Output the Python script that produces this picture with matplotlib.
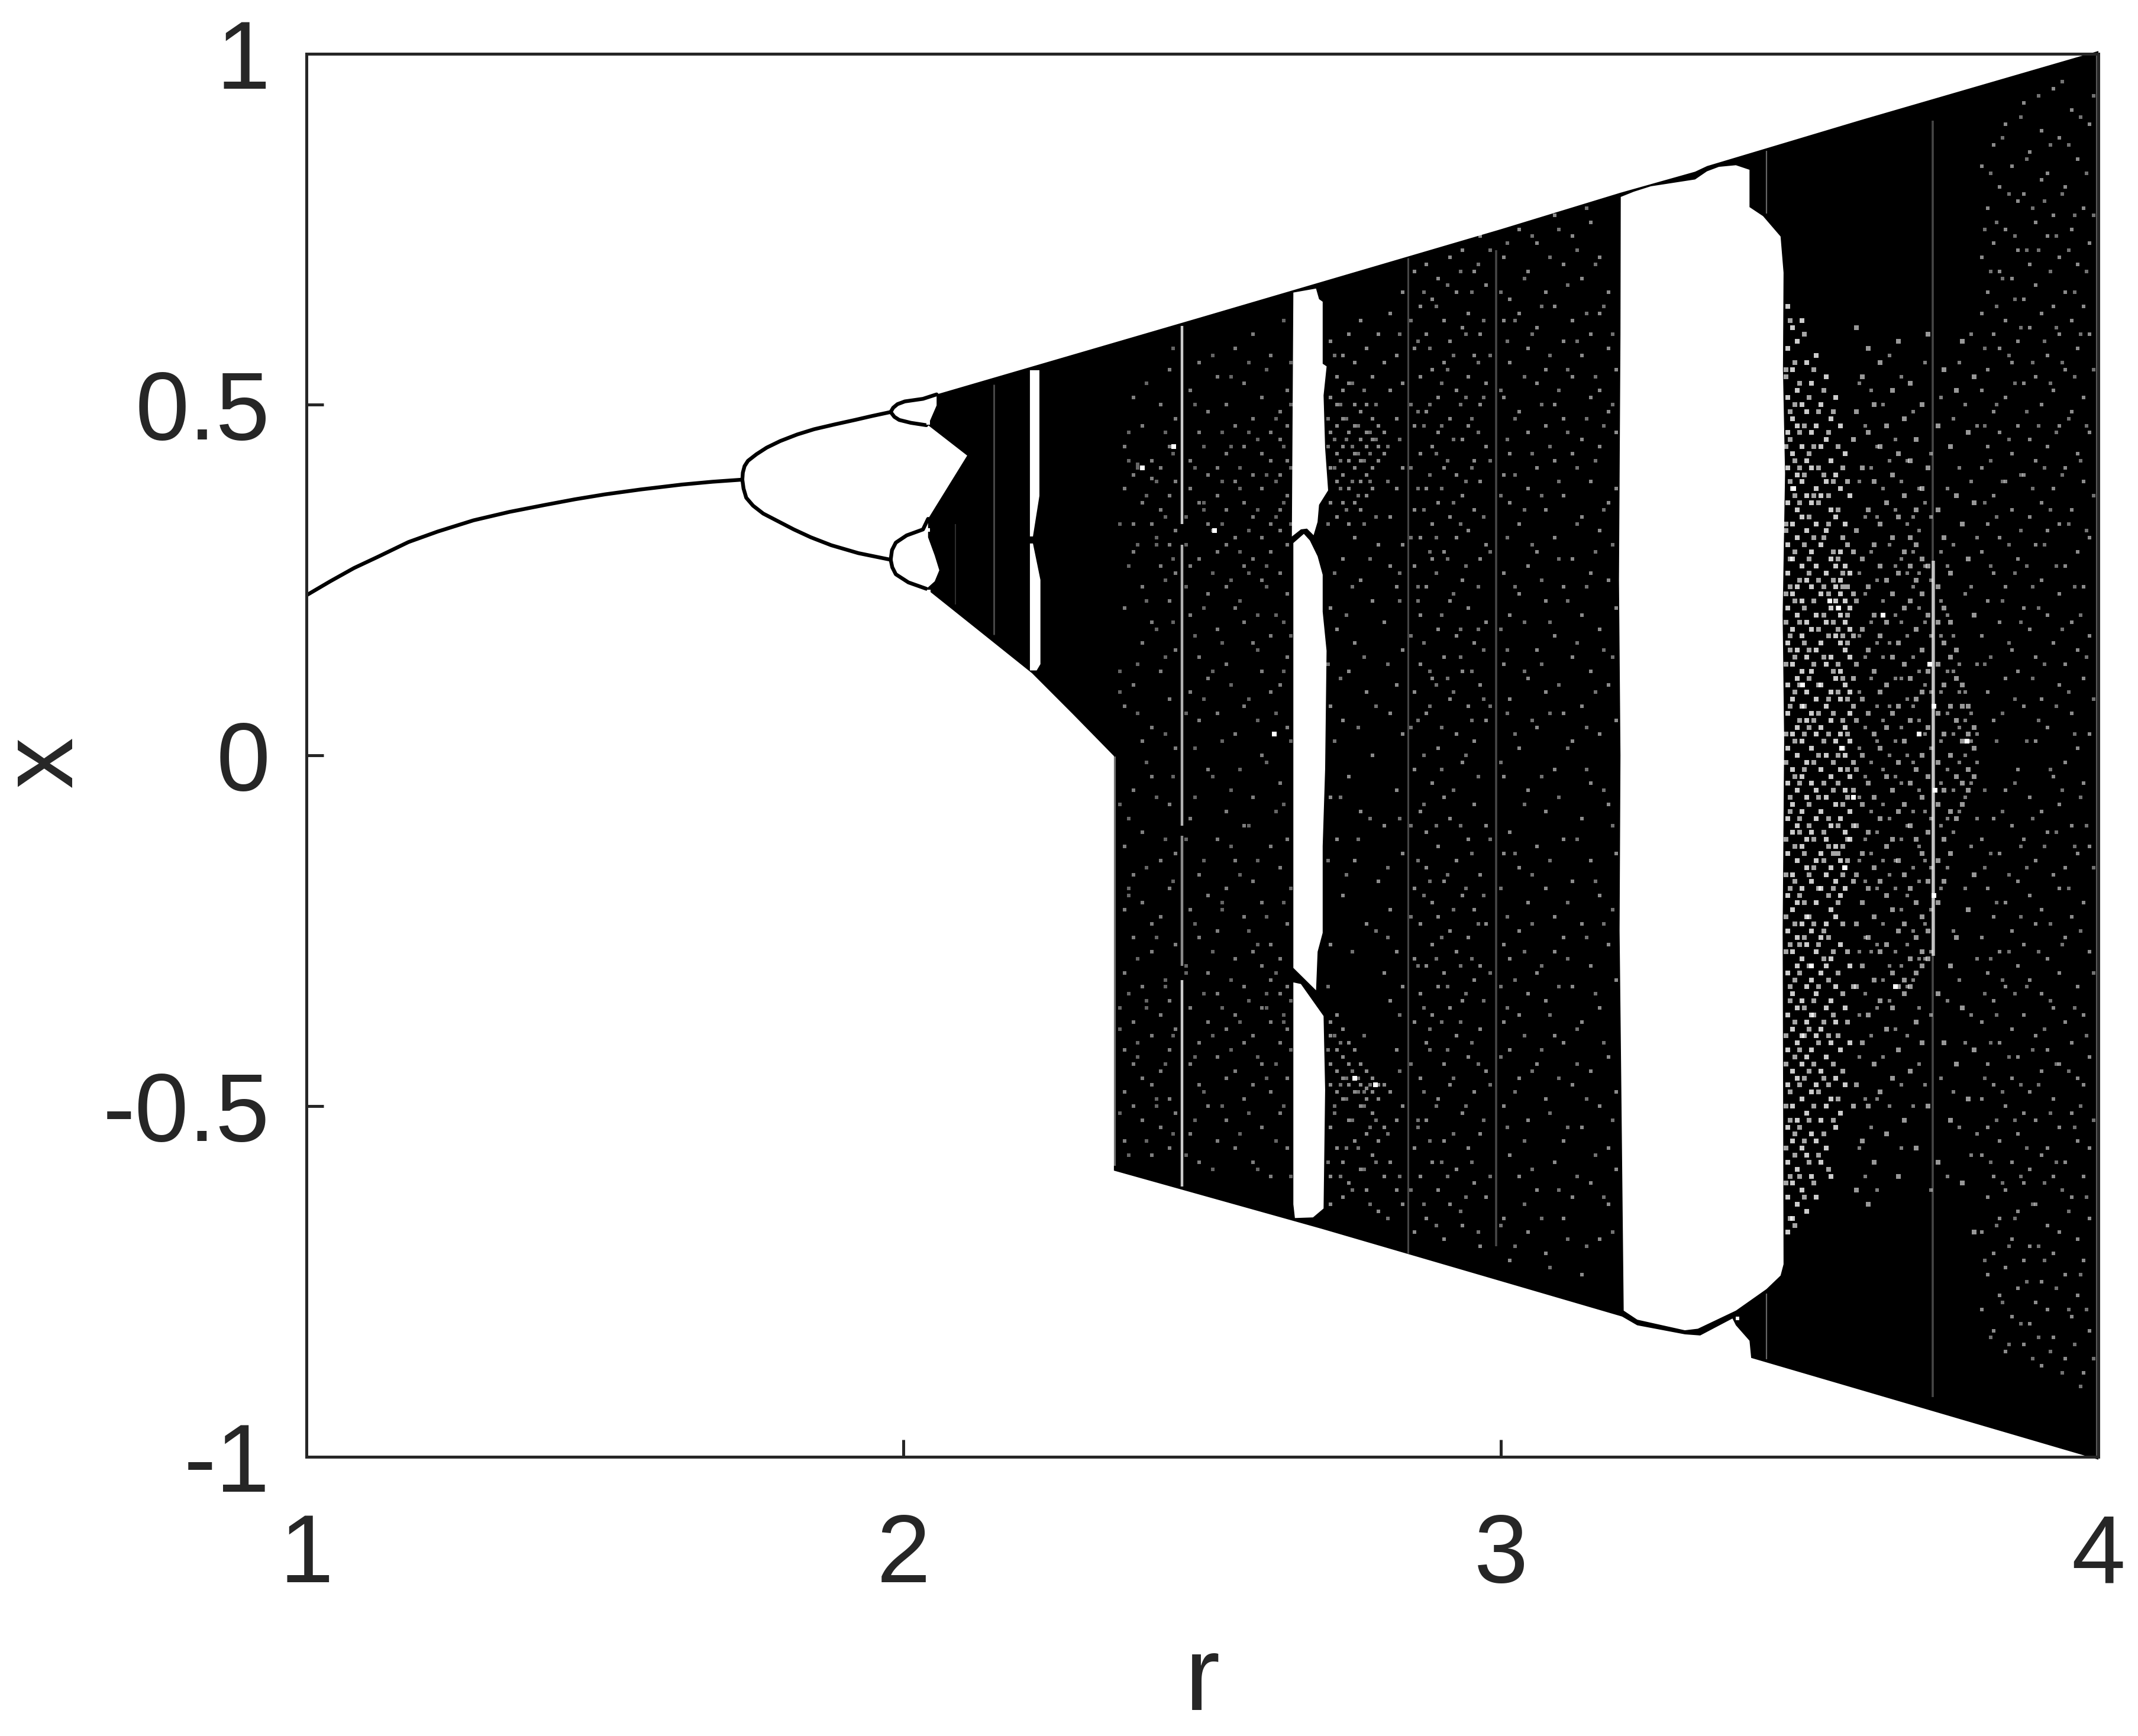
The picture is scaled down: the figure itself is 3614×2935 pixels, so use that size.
import matplotlib
matplotlib.use("Agg")
import matplotlib.pyplot as plt

plt.rcParams["font.family"] = ["Liberation Sans", "DejaVu Sans"]

INK = "#262626"

# single branch and the period doubling branches before the black band
stem_r = [1.0, 1.04, 1.08, 1.12, 1.171, 1.22, 1.28, 1.34, 1.4, 1.45, 1.5, 1.56, 1.629, 1.68, 1.73]
stem_x = [0.228, 0.248, 0.267, 0.283, 0.304, 0.319, 0.335, 0.347, 0.357, 0.365, 0.372, 0.379, 0.386, 0.39, 0.393]
upper_r = [1.73, 1.7308, 1.7337, 1.7394, 1.7536, 1.7707, 1.7934, 1.8219, 1.8503, 1.8845, 1.9186, 1.9471, 1.9783]
upper_x = [0.393, 0.4029, 0.4123, 0.4198, 0.4292, 0.4386, 0.448, 0.4574, 0.4649, 0.4717, 0.4781, 0.4837, 0.4894]
lower_r = [1.73, 1.732, 1.7365, 1.7479, 1.765, 1.7906, 1.8162, 1.8446, 1.8788, 1.9243, 1.9783]
lower_x = [0.393, 0.3803, 0.3672, 0.3559, 0.3446, 0.3333, 0.322, 0.3108, 0.2995, 0.2882, 0.2788]
twig_a_r = [1.9783, 1.9825, 1.9897, 2.002, 2.0324, 2.0552]
twig_a_x = [0.4894, 0.4955, 0.5006, 0.5045, 0.5082, 0.5145]
twig_b_r = [1.9783, 1.9845, 1.9926, 2.012, 2.0381]
twig_b_x = [0.4894, 0.4825, 0.4781, 0.474, 0.4706]
twig_c_r = [1.9783, 1.9805, 1.9869, 2.005, 2.0324, 2.0409]
twig_c_x = [0.2788, 0.2925, 0.3032, 0.3135, 0.322, 0.3371]
twig_d_r = [1.9783, 1.981, 1.9869, 2.008, 2.0381]
twig_d_x = [0.2788, 0.268, 0.2581, 0.2465, 0.2374]

# outline of the black band, top edge then bottom edge then the left notch
band_r = [2.0552, 2.5, 3.0, 3.2, 3.325, 3.345, 3.6, 4.0, 4.0, 3.968, 3.4188, 3.416, 3.3932, 3.3875,
          3.3335, 3.308, 3.228, 3.2026, 2.7, 2.352, 2.352, 2.283, 2.215, 2.124, 2.0381,
          2.052, 2.0597, 2.052, 2.0409, 2.0409, 2.1064, 2.0409, 2.0552]
band_x = [0.5145, 0.625, 0.75, 0.802, 0.832, 0.84, 0.905, 1.004, -1.004, -0.996, -0.859, -0.8345, -0.8125, -0.8028,
          -0.827, -0.8254, -0.8125, -0.80, -0.675, -0.592, -0.001, 0.059, 0.117, 0.179, 0.2374,
          0.2480, 0.2638, 0.2850, 0.3108, 0.3371, 0.4273, 0.4706, 0.4988]

# white periodic windows
win_a_r = [2.2114, 2.2273, 2.2273, 2.2165, 2.2114]
win_a_x = [0.549, 0.549, 0.37, 0.312, 0.312]
win_b_r = [2.2114, 2.2165, 2.229, 2.229, 2.2227, 2.2114]
win_b_x = [0.302, 0.302, 0.25, 0.13, 0.121, 0.121]
win_c_r = [2.6524, 2.6904, 2.6954, 2.7015, 2.7015, 2.7081, 2.703, 2.7056, 2.7106, 2.6954, 2.6929, 2.6863,
           2.6752, 2.6651, 2.6499]
win_c_x = [0.6597, 0.6654, 0.6503, 0.6466, 0.5582, 0.5545, 0.5131, 0.4379, 0.3777, 0.3571, 0.3326, 0.3138,
           0.3232, 0.3221, 0.3119]
win_d_r = [2.6524, 2.67, 2.68, 2.693, 2.7015, 2.7015, 2.708, 2.7056, 2.7015, 2.7015, 2.693, 2.6904, 2.6524]
win_d_x = [0.3026, 0.3157, 0.3063, 0.2837, 0.2574, 0.2048, 0.149, -0.0198, -0.1295, -0.253, -0.28, -0.335, -0.303]
win_e_r = [2.6524, 2.665, 2.703, 2.7056, 2.703, 2.6853, 2.655, 2.6524]
win_e_x = [-0.3237, -0.326, -0.3717, -0.4768, -0.646, -0.6587, -0.6596, -0.64]
win_f_r = [3.2005, 3.2225, 3.251, 3.3249, 3.3448, 3.3648, 3.3932, 3.416, 3.416, 3.4387, 3.468, 3.473, 3.472,
           3.4755, 3.4715, 3.474, 3.4715, 3.473, 3.468, 3.4444, 3.3932, 3.3295, 3.3078, 3.2282, 3.2054, 3.2005,
           3.1985, 3.2, 3.1975, 3.2]
win_f_x = [0.796, 0.8035, 0.8112, 0.8209, 0.8325, 0.8389, 0.8412, 0.8347, 0.7815, 0.7686, 0.7396, 0.688, 0.55,
           0.4016, 0.2, 0.02, -0.25, -0.7255, -0.7416, -0.7609, -0.7916, -0.8174, -0.8196, -0.8045, -0.7916, -0.4,
           -0.25, 0.0, 0.25, 0.6]

# small white holes next to the twigs
hole_r = [2.0415, 2.0415, 2.0425, 3.396]
hole_x = [0.4735, 0.3215, 0.2335, -0.803]

# faint vertical streaks: position, bottom, top, opacity, width
streak_r = [2.151, 2.087, 2.466, 2.466, 2.466, 2.466, 2.8447, 2.9914, 3.4444, 3.4444, 3.7232, 3.7236, 2.3535, 3.9985]
streak_lo = [0.172, 0.215, 0.33, -0.10, -0.30, -0.615, -0.71, -0.70, 0.772, -0.861, -0.915, -0.286, -0.585, -1.0]
streak_hi = [0.529, 0.33, 0.612, 0.30, -0.115, -0.32, 0.709, 0.72, 0.862, -0.767, 0.905, 0.2777, -0.002, 1.0]
streak_a = [0.3, 0.18, 0.8, 0.7, 0.55, 0.8, 0.28, 0.28, 0.4, 0.4, 0.28, 0.7, 0.45, 0.35]
streak_w = [2.0, 1.5, 3.2, 3.2, 3.2, 3.2, 2.2, 2.6, 1.6, 1.6, 2.6, 4.0, 3.0, 3.0]

# speckle columns, x values at each r
sparse_r = [2.37, 2.385, 2.40, 2.415, 2.43, 2.445, 2.455, 2.48, 2.495, 2.51, 2.525, 2.54, 2.555, 2.57, 2.585, 2.60,
            2.615, 2.63, 2.642]
sparse_x = [
    [0.44, 0.38, 0.21, 0.07, -0.13, -0.22, -0.31, -0.42, -0.48, -0.55],
    [0.51, 0.40, 0.33, 0.29, 0.10, -0.05, -0.17, -0.26, -0.38, -0.44, -0.50],
    [0.47, 0.36, 0.24, 0.16, 0.02, -0.11, -0.21, -0.33, -0.46, -0.52],
    [0.42, 0.395, 0.33, 0.19, 0.04, -0.03, -0.24, -0.28, -0.40, -0.47, -0.57],
    [0.50, 0.41, 0.35, 0.27, 0.12, -0.15, -0.23, -0.37, -0.45, -0.53],
    [0.55, 0.44, 0.37, 0.30, 0.22, 0.08, -0.07, -0.19, -0.35, -0.42, -0.49, -0.56],
    [0.48, 0.39, 0.32, 0.26, 0.15, 0.01, -0.14, -0.27, -0.39, -0.51],
    [0.52, 0.42, 0.38, 0.27, 0.20, 0.09, -0.09, -0.22, -0.36, -0.44, -0.54],
    [0.56, 0.46, 0.36, 0.28, 0.14, 0.05, -0.17, -0.26, -0.41, -0.47, -0.58],
    [0.49, 0.40, 0.33, 0.23, 0.11, -0.02, -0.20, -0.31, -0.38, -0.50],
    [0.54, 0.41, 0.37, 0.29, 0.18, 0.06, -0.12, -0.25, -0.34, -0.43, -0.55],
    [0.50, 0.43, 0.35, 0.30, 0.24, 0.13, -0.08, -0.19, -0.39, -0.46, -0.52],
    [0.58, 0.47, 0.39, 0.31, 0.21, 0.03, -0.15, -0.29, -0.37, -0.45, -0.56],
    [0.53, 0.44, 0.36, 0.27, 0.19, 0.07, -0.10, -0.23, -0.33, -0.41, -0.49],
    [0.60, 0.48, 0.40, 0.34, 0.28, 0.16, -0.06, -0.18, -0.28, -0.40, -0.47, -0.58],
    [0.51, 0.43, 0.38, 0.31, 0.25, 0.12, 0.0, -0.21, -0.30, -0.36, -0.44, -0.53],
    [0.57, 0.46, 0.42, 0.33, 0.29, 0.17, 0.09, -0.13, -0.27, -0.32, -0.38, -0.48, -0.60],
    [0.49, 0.45, 0.40, 0.35, 0.32, 0.26, 0.10, -0.04, -0.16, -0.29, -0.34, -0.41, -0.51],
    [0.52, 0.47, 0.42, 0.37, 0.30, 0.23, 0.14, 0.04, -0.12, -0.24, -0.33, -0.39, -0.46, -0.56],
]
sparse2_r = [2.362, 2.377, 2.392, 2.407, 2.423, 2.438, 2.451, 2.473, 2.488, 2.503, 2.517, 2.533, 2.548, 2.563, 2.578,
             2.593, 2.608, 2.623, 2.636, 2.648]
sparse2_x = [
    [0.33, 0.12, 0.09, -0.07, -0.36, -0.39, -0.51],
    [0.46, 0.42, 0.27, -0.09, -0.19, -0.20, -0.34, -0.57],
    [0.41, 0.415, 0.30, 0.13, 0.06, -0.29, -0.41, -0.43],
    [0.53, 0.37, 0.22, -0.01, -0.16, -0.35, -0.36, -0.55],
    [0.39, 0.31, 0.30, 0.18, -0.06, -0.26, -0.49, -0.50],
    [0.46, 0.34, 0.25, 0.14, 0.03, -0.12, -0.32, -0.33, -0.44],
    [0.58, 0.43, 0.28, 0.19, -0.03, -0.18, -0.40, -0.54],
    [0.34, 0.30, 0.24, 0.06, -0.12, -0.30, -0.31, -0.57],
    [0.50, 0.41, 0.17, 0.01, -0.06, -0.24, -0.43, -0.52],
    [0.44, 0.36, 0.35, 0.21, 0.08, -0.15, -0.34, -0.48],
    [0.57, 0.32, 0.26, 0.12, -0.03, -0.28, -0.40, -0.59],
    [0.46, 0.39, 0.33, 0.16, 0.02, -0.21, -0.22, -0.36, -0.50],
    [0.54, 0.44, 0.25, 0.10, -0.05, -0.13, -0.32, -0.42],
    [0.41, 0.38, 0.29, 0.22, -0.02, -0.17, -0.38, -0.54],
    [0.56, 0.46, 0.32, 0.26, 0.08, -0.10, -0.25, -0.35, -0.51],
    [0.45, 0.35, 0.20, 0.15, 0.05, -0.15, -0.27, -0.43, -0.59],
    [0.55, 0.40, 0.27, 0.24, -0.01, -0.23, -0.34, -0.36, -0.46],
    [0.48, 0.39, 0.34, 0.20, 0.06, -0.08, -0.31, -0.44, -0.55],
    [0.62, 0.44, 0.36, 0.19, 0.12, -0.07, -0.21, -0.37, -0.38, -0.50],
    [0.56, 0.50, 0.41, 0.33, 0.17, 0.02, -0.19, -0.35, -0.42, -0.60],
]
mid_r = [2.715, 2.725, 2.735, 2.745, 2.755, 2.765, 2.775, 2.785, 2.795, 2.805, 2.815, 2.825, 2.835, 2.855, 2.865,
         2.875, 2.885, 2.895, 2.905, 2.915, 2.925, 2.935, 2.945, 2.955, 2.965, 2.975, 3.005, 3.015, 3.03, 3.045,
         3.06, 3.075, 3.09, 3.105, 3.12, 3.135, 3.15, 3.165, 3.18, 3.193]
mid_x = [
    [0.59, 0.51, 0.46, 0.41, 0.36, 0.21, 0.07, -0.06, -0.27, -0.38, -0.40, -0.44, -0.47, -0.53, -0.60, -0.64],
    [0.54, 0.50, 0.47, 0.43, 0.39, 0.34, 0.18, -0.12, -0.37, -0.42, -0.45, -0.48, -0.56],
    [0.57, 0.52, 0.48, 0.44, 0.40, 0.36, 0.28, 0.05, -0.20, -0.39, -0.43, -0.46, -0.49, -0.58, -0.63],
    [0.60, 0.53, 0.46, 0.42, 0.38, 0.33, 0.12, -0.03, -0.41, -0.44, -0.47, -0.52, -0.61],
    [0.56, 0.50, 0.47, 0.43, 0.41, 0.36, 0.31, 0.16, -0.15, -0.42, -0.46, -0.48, -0.55],
    [0.62, 0.49, 0.45, 0.42, 0.39, 0.35, 0.25, -0.08, -0.44, -0.47, -0.50, -0.59],
    [0.58, 0.50, 0.46, 0.44, 0.40, 0.37, 0.09, -0.24, -0.45, -0.475, -0.49, -0.54, -0.62],
    [0.54, 0.48, 0.45, 0.41, 0.38, 0.22, 0.0, -0.46, -0.48, -0.51, -0.57],
    [0.60, 0.47, 0.44, 0.42, 0.30, -0.18, -0.47, -0.49, -0.55, -0.65],
    [0.56, 0.46, 0.43, 0.19, -0.10, -0.31, -0.47, -0.53, -0.60],
    [0.63, 0.52, 0.34, 0.27, 0.06, -0.22, -0.35, -0.48, -0.58],
    [0.57, 0.48, 0.38, 0.24, 0.10, -0.05, -0.28, -0.42, -0.52, -0.62],
    [0.66, 0.53, 0.41, 0.30, 0.15, 0.03, -0.14, -0.33, -0.50, -0.64],
    [0.69, 0.58, 0.47, 0.35, 0.27, 0.09, -0.02, -0.19, -0.29, -0.38, -0.56, -0.68],
    [0.64, 0.54, 0.43, 0.31, 0.20, 0.13, -0.08, -0.24, -0.34, -0.46, -0.60],
    [0.70, 0.60, 0.49, 0.38, 0.24, 0.06, -0.11, -0.16, -0.30, -0.41, -0.52, -0.66],
    [0.65, 0.55, 0.44, 0.33, 0.28, 0.11, -0.04, -0.21, -0.27, -0.37, -0.58],
    [0.68, 0.51, 0.46, 0.36, 0.18, 0.01, -0.13, -0.23, -0.33, -0.49, -0.62],
    [0.62, 0.56, 0.41, 0.29, 0.14, -0.06, -0.18, -0.31, -0.44, -0.55, -0.69],
    [0.71, 0.59, 0.48, 0.34, 0.22, 0.08, -0.09, -0.25, -0.36, -0.47, -0.64],
    [0.66, 0.52, 0.40, 0.31, 0.17, 0.03, -0.15, -0.28, -0.40, -0.59],
    [0.72, 0.61, 0.45, 0.37, 0.25, 0.12, -0.01, -0.20, -0.35, -0.51, -0.67],
    [0.63, 0.54, 0.47, 0.32, 0.21, 0.07, -0.12, -0.26, -0.43, -0.56],
    [0.69, 0.57, 0.42, 0.35, 0.16, 0.02, -0.07, -0.22, -0.32, -0.48, -0.61],
    [0.74, 0.60, 0.50, 0.39, 0.28, 0.10, -0.17, -0.30, -0.39, -0.54, -0.70],
    [0.67, 0.53, 0.44, 0.30, 0.19, 0.05, -0.10, -0.24, -0.45, -0.63],
    [0.71, 0.62, 0.51, 0.40, 0.26, 0.13, -0.03, -0.14, -0.27, -0.38, -0.50, -0.66],
    [0.65, 0.56, 0.43, 0.36, 0.20, 0.08, -0.11, -0.29, -0.42, -0.57, -0.72],
    [0.75, 0.63, 0.49, 0.33, 0.23, 0.01, -0.16, -0.25, -0.37, -0.46, -0.60],
    [0.69, 0.58, 0.46, 0.38, 0.27, 0.11, -0.05, -0.21, -0.34, -0.52, -0.68],
    [0.73, 0.61, 0.53, 0.41, 0.29, 0.15, 0.04, -0.13, -0.31, -0.44, -0.62],
    [0.66, 0.55, 0.47, 0.35, 0.22, 0.09, -0.08, -0.19, -0.35, -0.49, -0.71],
    [0.77, 0.64, 0.50, 0.42, 0.31, 0.17, -0.02, -0.23, -0.28, -0.40, -0.58],
    [0.70, 0.59, 0.48, 0.37, 0.24, 0.06, -0.12, -0.26, -0.41, -0.55, -0.66],
    [0.74, 0.62, 0.54, 0.43, 0.28, 0.14, 0.02, -0.18, -0.33, -0.47, -0.63],
    [0.68, 0.57, 0.45, 0.34, 0.20, 0.07, -0.09, -0.24, -0.38, -0.53, -0.74],
    [0.76, 0.60, 0.51, 0.39, 0.26, 0.12, -0.04, -0.15, -0.30, -0.45, -0.61],
    [0.71, 0.63, 0.52, 0.44, 0.32, 0.18, 0.03, -0.20, -0.36, -0.50, -0.69],
    [0.66, 0.58, 0.49, 0.36, 0.25, 0.10, -0.07, -0.27, -0.43, -0.56, -0.64],
    [0.55, 0.46, 0.38, 0.21, 0.05, -0.14, -0.32, -0.48, -0.59],
]
mid2_r = [2.711, 2.721, 2.731, 2.741, 2.751, 2.761, 2.771, 2.781, 2.791, 2.811, 2.83, 2.849, 2.861, 2.871, 2.881,
          2.892, 2.901, 2.911, 2.921, 2.932, 2.941, 2.951, 2.962, 2.971, 2.982, 3.0, 3.011, 3.024, 3.039, 3.052,
          3.068, 3.082, 3.097, 3.112, 3.128, 3.143, 3.158, 3.172, 3.187]
mid2_x = [
    [0.48, 0.44, 0.33, 0.13, -0.15, -0.33, -0.42, -0.58],
    [0.57, 0.45, 0.41, 0.26, 0.02, -0.40, -0.50, -0.51],
    [0.50, 0.42, 0.38, 0.11, -0.06, -0.41, -0.47, -0.60],
    [0.48, 0.45, 0.35, 0.20, -0.17, -0.46, -0.49, -0.56],
    [0.53, 0.44, 0.39, 0.24, -0.28, -0.45, -0.52, -0.62],
    [0.47, 0.43, 0.37, 0.04, -0.12, -0.46, -0.48, -0.56],
    [0.52, 0.42, 0.33, 0.14, -0.40, -0.48, -0.50, -0.59],
    [0.46, 0.43, 0.39, 0.28, -0.09, -0.47, -0.53, -0.64],
    [0.50, 0.45, 0.34, 0.07, -0.25, -0.52, -0.58],
    [0.44, 0.39, 0.13, -0.16, -0.26, -0.54, -0.66],
    [0.60, 0.45, 0.26, 0.22, -0.09, -0.37, -0.45, -0.60],
    [0.62, 0.50, 0.41, 0.31, 0.17, 0.04, -0.10, -0.23, -0.44, -0.62],
    [0.59, 0.49, 0.38, 0.24, 0.22, 0.05, -0.15, -0.30, -0.52, -0.53],
    [0.66, 0.47, 0.35, 0.16, 0.0, -0.07, -0.20, -0.36, -0.48, -0.64],
    [0.58, 0.50, 0.40, 0.29, 0.12, 0.07, -0.18, -0.39, -0.42, -0.55],
    [0.64, 0.43, 0.31, 0.26, 0.10, -0.10, -0.29, -0.50, -0.67],
    [0.53, 0.47, 0.38, 0.20, 0.04, -0.02, -0.26, -0.38, -0.58],
    [0.67, 0.55, 0.42, 0.28, 0.11, -0.17, -0.33, -0.42, -0.60],
    [0.57, 0.45, 0.36, 0.23, 0.09, -0.05, -0.22, -0.46, -0.54],
    [0.69, 0.50, 0.33, 0.18, 0.14, -0.10, -0.30, -0.38, -0.65],
    [0.60, 0.51, 0.39, 0.27, 0.00, -0.19, -0.34, -0.50, -0.63],
    [0.66, 0.48, 0.41, 0.12, 0.05, -0.14, -0.29, -0.41, -0.58],
    [0.70, 0.56, 0.46, 0.24, 0.18, -0.03, -0.24, -0.44, -0.68],
    [0.62, 0.51, 0.34, 0.15, 0.08, -0.20, -0.35, -0.52],
    [0.72, 0.57, 0.42, 0.29, 0.07, -0.12, -0.31, -0.47, -0.60],
    [0.66, 0.52, 0.37, 0.18, -0.01, -0.19, -0.33, -0.43, -0.67],
    [0.73, 0.59, 0.45, 0.31, 0.15, 0.06, -0.23, -0.36, -0.53],
    [0.62, 0.48, 0.40, 0.24, 0.03, -0.14, -0.32, -0.48, -0.70],
    [0.68, 0.54, 0.35, 0.19, 0.12, -0.07, -0.28, -0.40, -0.55, -0.64],
    [0.74, 0.60, 0.43, 0.30, 0.05, -0.17, -0.24, -0.45, -0.59],
    [0.64, 0.50, 0.37, 0.25, 0.13, -0.03, -0.30, -0.42, -0.66],
    [0.71, 0.57, 0.44, 0.19, 0.06, -0.15, -0.37, -0.51, -0.73],
    [0.75, 0.52, 0.39, 0.28, 0.10, -0.06, -0.33, -0.46, -0.62],
    [0.67, 0.55, 0.46, 0.22, 0.01, -0.21, -0.29, -0.53, -0.69],
    [0.72, 0.59, 0.41, 0.33, 0.16, -0.12, -0.39, -0.44, -0.60],
    [0.78, 0.63, 0.48, 0.24, 0.04, -0.02, -0.26, -0.49, -0.70],
    [0.70, 0.54, 0.42, 0.29, 0.09, -0.18, -0.34, -0.57],
    [0.64, 0.47, 0.35, 0.15, -0.05, -0.24, -0.41, -0.63],
    [0.60, 0.50, 0.30, 0.14, -0.10, -0.22, -0.52, -0.68],
]
dense_r = [3.48, 3.488, 3.496, 3.504, 3.512, 3.52, 3.528, 3.536, 3.544, 3.552, 3.56, 3.568, 3.576, 3.584]
dense_x = [
    [0.64, 0.58, 0.51, 0.46, 0.41, 0.36, 0.30, 0.26, 0.21, 0.16, 0.10, 0.06, 0.01, -0.04, -0.09, -0.14, -0.20, -0.25, -0.31, -0.37, -0.42, -0.47, -0.53, -0.58, -0.63, -0.68],
    [0.61, 0.55, 0.48, 0.43, 0.38, 0.33, 0.28, 0.23, 0.18, 0.13, 0.08, 0.03, -0.02, -0.07, -0.11, -0.17, -0.22, -0.28, -0.34, -0.39, -0.45, -0.50, -0.55, -0.61, -0.66],
    [0.59, 0.52, 0.47, 0.40, 0.35, 0.31, 0.24, 0.20, 0.15, 0.11, 0.04, 0.0, -0.05, -0.10, -0.15, -0.21, -0.26, -0.30, -0.36, -0.41, -0.46, -0.52, -0.59, -0.64],
    [0.62, 0.50, 0.44, 0.39, 0.34, 0.27, 0.22, 0.17, 0.12, 0.07, 0.02, -0.03, -0.08, -0.13, -0.19, -0.24, -0.29, -0.35, -0.40, -0.44, -0.49, -0.56, -0.62],
    [0.56, 0.49, 0.42, 0.37, 0.32, 0.25, 0.19, 0.14, 0.09, 0.05, -0.01, -0.06, -0.12, -0.16, -0.23, -0.27, -0.33, -0.38, -0.43, -0.51, -0.57, -0.65],
    [0.53, 0.46, 0.41, 0.36, 0.29, 0.24, 0.18, 0.12, 0.06, 0.01, -0.04, -0.11, -0.18, -0.25, -0.32, -0.37, -0.42, -0.48, -0.54, -0.60],
    [0.57, 0.47, 0.38, 0.33, 0.27, 0.20, 0.15, 0.08, 0.03, -0.05, -0.09, -0.15, -0.21, -0.28, -0.34, -0.40, -0.47, -0.55, -0.63],
    [0.50, 0.44, 0.37, 0.30, 0.23, 0.16, 0.10, 0.04, -0.02, -0.08, -0.14, -0.19, -0.26, -0.31, -0.39, -0.45, -0.52, -0.58],
    [0.54, 0.45, 0.39, 0.32, 0.26, 0.19, 0.13, 0.07, 0.0, -0.06, -0.12, -0.17, -0.24, -0.30, -0.36, -0.43, -0.50, -0.56],
    [0.48, 0.42, 0.35, 0.28, 0.21, 0.14, 0.09, 0.05, -0.03, -0.10, -0.16, -0.22, -0.29, -0.35, -0.41, -0.49, -0.60],
    [0.51, 0.40, 0.34, 0.27, 0.24, 0.22, 0.17, 0.11, 0.02, -0.07, -0.13, -0.18, -0.23, -0.33, -0.38, -0.46, -0.53],
    [0.47, 0.38, 0.29, 0.25, 0.23, 0.20, 0.16, 0.12, 0.08, 0.03, -0.02, -0.09, -0.15, -0.20, -0.27, -0.42, -0.51],
    [0.43, 0.33, 0.27, 0.22, 0.19, 0.15, 0.10, 0.04, 0.0, -0.05, -0.11, -0.16, -0.19, -0.36, -0.47],
    [0.37, 0.26, 0.21, 0.18, 0.14, 0.09, 0.06, 0.02, -0.03, -0.08, -0.12, -0.30, -0.41],
]
dense2_r = [3.477, 3.484, 3.492, 3.5, 3.508, 3.516, 3.524, 3.532, 3.54, 3.548, 3.556, 3.564, 3.572, 3.58, 3.59]
dense2_x = [
    [0.55, 0.54, 0.44, 0.33, 0.32, 0.23, 0.19, 0.13, 0.03, -0.01, -0.12, -0.17, -0.23, -0.28, -0.40, -0.44, -0.50, -0.56, -0.61],
    [0.62, 0.49, 0.45, 0.39, 0.28, 0.24, 0.17, 0.15, 0.07, -0.06, -0.08, -0.19, -0.27, -0.33, -0.35, -0.48, -0.52, -0.60, -0.66],
    [0.56, 0.50, 0.42, 0.37, 0.29, 0.22, 0.14, 0.09, 0.02, -0.03, -0.13, -0.18, -0.24, -0.32, -0.38, -0.43, -0.54, -0.57, -0.67],
    [0.53, 0.46, 0.41, 0.36, 0.25, 0.19, 0.10, 0.05, -0.04, -0.09, -0.11, -0.20, -0.27, -0.31, -0.42, -0.47, -0.53, -0.60],
    [0.60, 0.47, 0.40, 0.30, 0.21, 0.16, 0.07, 0.03, -0.02, -0.14, -0.21, -0.26, -0.36, -0.40, -0.46, -0.55, -0.63],
    [0.51, 0.43, 0.34, 0.28, 0.26, 0.15, 0.11, 0.04, -0.07, -0.10, -0.17, -0.23, -0.30, -0.39, -0.45, -0.52, -0.58],
    [0.55, 0.44, 0.37, 0.31, 0.22, 0.13, 0.05, -0.01, -0.12, -0.16, -0.24, -0.35, -0.37, -0.44, -0.50, -0.61],
    [0.49, 0.41, 0.36, 0.25, 0.18, 0.10, 0.06, 0.0, -0.06, -0.19, -0.27, -0.33, -0.41, -0.48, -0.57],
    [0.52, 0.40, 0.31, 0.24, 0.20, 0.14, 0.02, -0.04, -0.11, -0.15, -0.25, -0.29, -0.38, -0.46, -0.54],
    [0.46, 0.37, 0.33, 0.23, 0.17, 0.08, 0.03, -0.09, -0.13, -0.20, -0.26, -0.32, -0.40, -0.47, -0.59],
    [0.49, 0.39, 0.29, 0.25, 0.19, 0.12, 0.06, -0.01, -0.05, -0.14, -0.19, -0.28, -0.37, -0.44, -0.52],
    [0.44, 0.35, 0.28, 0.21, 0.18, 0.13, 0.09, 0.0, -0.04, -0.10, -0.14, -0.21, -0.31, -0.40, -0.49],
    [0.41, 0.31, 0.26, 0.24, 0.17, 0.11, 0.05, 0.01, -0.07, -0.13, -0.17, -0.24, -0.34, -0.45],
    [0.39, 0.30, 0.24, 0.20, 0.16, 0.08, 0.03, -0.02, -0.06, -0.12, -0.15, -0.28, -0.38],
    [0.45, 0.29, 0.23, 0.17, 0.11, 0.07, -0.01, -0.05, -0.10, -0.18, -0.33, -0.50],
]
lens_r = [3.595, 3.605, 3.615, 3.625, 3.635, 3.645, 3.655, 3.665, 3.675, 3.685, 3.695, 3.705, 3.715, 3.732, 3.742, 3.752,
          3.762, 3.772, 3.782, 3.792]
lens_x = [
    [0.61, 0.49, 0.32, 0.22, 0.13, 0.05, -0.02, -0.10, -0.17, -0.24, -0.33, -0.47, -0.62],
    [0.54, 0.41, 0.28, 0.18, 0.08, 0.0, -0.07, -0.14, -0.21, -0.30, -0.41, -0.55],
    [0.58, 0.46, 0.35, 0.24, 0.15, 0.06, -0.04, -0.11, -0.19, -0.26, -0.37, -0.50, -0.64],
    [0.50, 0.39, 0.30, 0.20, 0.12, 0.03, -0.06, -0.16, -0.23, -0.32, -0.44, -0.58],
    [0.56, 0.44, 0.33, 0.27, 0.17, 0.09, 0.01, -0.09, -0.18, -0.28, -0.35, -0.48],
    [0.47, 0.36, 0.25, 0.19, 0.10, 0.04, -0.03, -0.13, -0.20, -0.27, -0.39, -0.54],
    [0.52, 0.40, 0.31, 0.23, 0.14, 0.06, -0.05, -0.12, -0.22, -0.31, -0.36, -0.46],
    [0.59, 0.43, 0.34, 0.26, 0.16, 0.07, -0.01, -0.08, -0.15, -0.25, -0.33, -0.42, -0.60],
    [0.48, 0.37, 0.29, 0.21, 0.13, 0.02, -0.07, -0.17, -0.24, -0.32, -0.34, -0.52],
    [0.53, 0.42, 0.31, 0.27, 0.22, 0.11, 0.05, -0.04, -0.10, -0.19, -0.29, -0.33, -0.45],
    [0.45, 0.35, 0.30, 0.25, 0.18, 0.08, -0.02, -0.12, -0.21, -0.26, -0.31, -0.38, -0.56],
    [0.50, 0.38, 0.28, 0.23, 0.15, 0.09, 0.0, -0.06, -0.14, -0.23, -0.28, -0.30, -0.41],
    [0.60, 0.41, 0.27, 0.20, 0.12, 0.04, -0.03, -0.11, -0.18, -0.25, -0.29, -0.50],
    [0.47, 0.35, 0.24, 0.19, 0.13, 0.06, -0.01, -0.07, -0.15, -0.21, -0.34, -0.58],
    [0.55, 0.31, 0.21, 0.16, 0.10, 0.03, -0.05, -0.12, -0.18, -0.41],
    [0.44, 0.26, 0.19, 0.14, 0.07, 0.0, -0.08, -0.14, -0.30, -0.52],
    [0.52, 0.37, 0.15, 0.11, 0.05, -0.03, -0.09, -0.26, -0.44],
    [0.59, 0.33, 0.10, 0.07, 0.02, -0.04, -0.07, -0.36, -0.61],
    [0.46, 0.28, 0.07, 0.03, -0.02, -0.05, -0.22, -0.49],
    [0.54, 0.36, 0.20, 0.04, 0.01, -0.03, -0.17, -0.42, -0.68],
]
lens2_r = [3.6, 3.61, 3.62, 3.63, 3.64, 3.65, 3.66, 3.67, 3.68, 3.69, 3.7, 3.71, 3.72, 3.737, 3.747, 3.757, 3.767, 3.777,
           3.787, 3.797]
lens2_x = [
    [0.53, 0.39, 0.26, 0.17, 0.09, 0.01, -0.06, -0.15, -0.28, -0.37, -0.43, -0.56],
    [0.47, 0.34, 0.23, 0.14, 0.04, -0.03, -0.12, -0.18, -0.26, -0.34, -0.49, -0.60],
    [0.52, 0.41, 0.29, 0.19, 0.11, -0.01, -0.08, -0.14, -0.28, -0.40, -0.53],
    [0.44, 0.34, 0.25, 0.16, 0.07, 0.02, -0.11, -0.19, -0.27, -0.36, -0.49, -0.62],
    [0.50, 0.38, 0.22, 0.14, 0.05, -0.02, -0.07, -0.15, -0.24, -0.32, -0.43],
    [0.57, 0.42, 0.30, 0.16, 0.07, 0.0, -0.09, -0.17, -0.30, -0.35, -0.50],
    [0.45, 0.35, 0.27, 0.20, 0.11, 0.02, -0.03, -0.15, -0.19, -0.28, -0.39],
    [0.54, 0.39, 0.28, 0.19, 0.11, 0.04, -0.04, -0.12, -0.22, -0.30, -0.47, -0.56],
    [0.42, 0.33, 0.26, 0.17, 0.08, 0.0, -0.10, -0.20, -0.27, -0.33, -0.40],
    [0.49, 0.34, 0.29, 0.24, 0.14, 0.07, -0.01, -0.08, -0.16, -0.25, -0.32, -0.50],
    [0.38, 0.32, 0.26, 0.21, 0.12, 0.05, -0.05, -0.13, -0.18, -0.29, -0.36, -0.44],
    [0.56, 0.36, 0.27, 0.19, 0.10, 0.03, -0.08, -0.15, -0.24, -0.29, -0.47],
    [0.43, 0.34, 0.25, 0.17, 0.09, 0.01, -0.09, -0.16, -0.22, -0.28, -0.37, -0.62],
    [0.51, 0.29, 0.22, 0.17, 0.09, 0.02, -0.04, -0.10, -0.19, -0.46],
    [0.38, 0.27, 0.20, 0.12, 0.06, -0.02, -0.09, -0.16, -0.35, -0.60],
    [0.48, 0.30, 0.17, 0.12, 0.03, -0.05, -0.11, -0.25, -0.48],
    [0.56, 0.41, 0.13, 0.09, 0.04, -0.01, -0.08, -0.32, -0.53],
    [0.50, 0.23, 0.09, 0.05, 0.0, -0.06, -0.19, -0.41],
    [0.60, 0.39, 0.24, 0.06, 0.02, -0.04, -0.13, -0.37, -0.57],
    [0.47, 0.31, 0.13, 0.03, -0.01, -0.09, -0.29, -0.54],
]
right_r = [3.805, 3.815, 3.825, 3.835, 3.845, 3.855, 3.865, 3.875, 3.885, 3.895, 3.905, 3.915, 3.925, 3.935, 3.945,
           3.955, 3.965, 3.975, 3.985]
right_x = [
    [0.84, 0.71, 0.63, 0.52, 0.41, 0.29, 0.17, -0.12, -0.26, -0.38, -0.49, -0.57, -0.68, -0.79],
    [0.78, 0.66, 0.55, 0.44, 0.33, 0.22, 0.09, -0.19, -0.31, -0.44, -0.53, -0.63, -0.74],
    [0.87, 0.73, 0.60, 0.49, 0.37, 0.26, 0.05, -0.09, -0.23, -0.35, -0.47, -0.60, -0.71, -0.82],
    [0.81, 0.69, 0.58, 0.46, 0.31, 0.19, -0.14, -0.28, -0.41, -0.55, -0.66, -0.77],
    [0.90, 0.75, 0.62, 0.51, 0.39, 0.24, 0.11, -0.05, -0.21, -0.33, -0.50, -0.62, -0.73, -0.85],
    [0.84, 0.68, 0.56, 0.43, 0.35, 0.15, -0.10, -0.25, -0.39, -0.46, -0.58, -0.69, -0.80],
    [0.79, 0.72, 0.59, 0.47, 0.28, 0.12, -0.02, -0.18, -0.30, -0.43, -0.54, -0.65, -0.76],
    [0.93, 0.80, 0.65, 0.53, 0.40, 0.21, 0.07, -0.12, -0.27, -0.37, -0.51, -0.61, -0.72, -0.84],
    [0.86, 0.70, 0.61, 0.45, 0.34, 0.18, -0.06, -0.20, -0.32, -0.48, -0.59, -0.70, -0.81],
    [0.76, 0.67, 0.54, 0.42, 0.30, 0.14, 0.02, -0.15, -0.24, -0.40, -0.52, -0.64, -0.78],
    [0.89, 0.82, 0.63, 0.50, 0.36, 0.25, 0.08, -0.08, -0.22, -0.34, -0.45, -0.57, -0.75, -0.87],
    [0.83, 0.74, 0.57, 0.44, 0.32, 0.20, 0.04, -0.11, -0.29, -0.42, -0.56, -0.67, -0.79],
    [0.95, 0.77, 0.64, 0.52, 0.38, 0.16, -0.03, -0.17, -0.36, -0.49, -0.60, -0.71, -0.83],
    [0.88, 0.71, 0.60, 0.47, 0.33, 0.23, 0.10, -0.07, -0.19, -0.31, -0.44, -0.53, -0.68],
    [0.81, 0.66, 0.55, 0.41, 0.27, 0.13, -0.01, -0.16, -0.26, -0.38, -0.58, -0.74, -0.86],
    [0.92, 0.75, 0.62, 0.49, 0.35, 0.19, 0.06, -0.10, -0.23, -0.41, -0.51, -0.63, -0.80],
    [0.85, 0.70, 0.58, 0.43, 0.29, 0.15, 0.01, -0.14, -0.33, -0.46, -0.55, -0.69, -0.77],
    [0.78, 0.64, 0.51, 0.39, 0.24, 0.11, -0.04, -0.21, -0.37, -0.47, -0.60, -0.72, -0.88],
    [0.90, 0.73, 0.60, 0.46, 0.31, 0.17, 0.03, -0.13, -0.28, -0.43, -0.56, -0.66, -0.82],
]
right2_r = [3.81, 3.82, 3.83, 3.84, 3.85, 3.86, 3.87, 3.88, 3.89, 3.9, 3.91, 3.92, 3.93, 3.94, 3.95, 3.96, 3.97, 3.98,
            3.992]
right2_x = [
    [0.75, 0.58, 0.47, 0.36, 0.13, -0.05, -0.16, -0.34, -0.46, -0.72],
    [0.83, 0.69, 0.42, 0.27, 0.14, -0.14, -0.29, -0.41, -0.58, -0.83],
    [0.76, 0.64, 0.50, 0.34, 0.02, -0.21, -0.37, -0.52, -0.67],
    [0.88, 0.68, 0.39, 0.22, 0.06, -0.08, -0.32, -0.48, -0.61, -0.78],
    [0.80, 0.57, 0.45, 0.30, 0.16, -0.17, -0.28, -0.43, -0.70, -0.84],
    [0.74, 0.65, 0.53, 0.26, 0.08, -0.04, -0.34, -0.52, -0.66],
    [0.91, 0.61, 0.40, 0.32, 0.19, -0.13, -0.23, -0.47, -0.60, -0.81],
    [0.85, 0.72, 0.49, 0.27, 0.02, -0.16, -0.33, -0.56, -0.75],
    [0.78, 0.56, 0.38, 0.24, 0.11, -0.09, -0.42, -0.64, -0.86],
    [0.94, 0.72, 0.47, 0.21, 0.05, -0.28, -0.47, -0.70, -0.83],
    [0.79, 0.59, 0.41, 0.30, 0.13, -0.13, -0.39, -0.61, -0.72],
    [0.87, 0.69, 0.53, 0.35, -0.02, -0.24, -0.35, -0.51, -0.85],
    [0.74, 0.61, 0.46, 0.27, 0.07, -0.11, -0.44, -0.58, -0.76],
    [0.96, 0.80, 0.56, 0.40, 0.18, -0.05, -0.27, -0.62, -0.88],
    [0.87, 0.72, 0.48, 0.33, 0.09, -0.19, -0.45, -0.65, -0.79],
    [0.77, 0.66, 0.54, 0.24, 0.03, -0.13, -0.36, -0.53, -0.84],
    [0.91, 0.60, 0.42, 0.20, -0.06, -0.25, -0.50, -0.74, -0.90],
    [0.83, 0.69, 0.47, 0.32, 0.14, -0.10, -0.40, -0.63, -0.79],
    [0.94, 0.77, 0.55, 0.37, 0.08, -0.16, -0.31, -0.52, -0.86],
]
bright_r = [3.49, 3.505, 3.52, 3.55, 3.565, 3.57, 3.575, 3.59, 3.64, 3.66, 3.70, 3.718, 3.725, 3.727, 3.725, 3.78,
            2.4, 2.452, 2.52, 2.62, 2.755, 2.79, 3.35]
bright_x = [0.38, 0.10, -0.30, 0.22, 0.21, 0.01, -0.16, -0.06, 0.20, -0.33, 0.03, 0.13, 0.07, -0.05, -0.20, 0.02,
            0.41, 0.44, 0.32, 0.03, -0.46, -0.47, 0.78]

# column positions, x values, marker area, opacity
REGIONS = [
    (sparse_r, sparse_x, 20, 0.5),
    (sparse2_r, sparse2_x, 16, 0.4),
    (mid_r, mid_x, 20, 0.55),
    (mid2_r, mid2_x, 16, 0.45),
    (dense_r, dense_x, 30, 0.8),
    (dense2_r, dense2_x, 26, 0.65),
    (lens_r, lens_x, 26, 0.6),
    (lens2_r, lens2_x, 22, 0.5),
    (right_r, right_x, 20, 0.55),
    (right2_r, right2_x, 16, 0.45),
]

r_ticks = [1, 2, 3, 4]
x_ticks = [-1, -0.5, 0, 0.5, 1]
x_tick_labels = ["-1", "-0.5", "0", "0.5", "1"]

fig = plt.figure(figsize=(36.14, 29.35), dpi=100)
ax = fig.add_axes([517.7 / 3614, 1 - 2463 / 2935, (3547 - 517.7) / 3614, (2463 - 91) / 2935])

for r_line, x_line in [(stem_r, stem_x), (upper_r, upper_x), (lower_r, lower_x), (twig_a_r, twig_a_x),
                       (twig_b_r, twig_b_x), (twig_c_r, twig_c_x), (twig_d_r, twig_d_x)]:
    ax.plot(r_line, x_line, color="black", lw=4.6, solid_capstyle="round", solid_joinstyle="round", zorder=2)

ax.fill(band_r, band_x, color="black", lw=0, zorder=2, clip_on=False)

for r_win, x_win in [(win_a_r, win_a_x), (win_b_r, win_b_x), (win_c_r, win_c_x), (win_d_r, win_d_x),
                     (win_e_r, win_e_x), (win_f_r, win_f_x)]:
    ax.fill(r_win, x_win, color="white", lw=0, zorder=3)

ax.scatter(hole_r, hole_x, s=18, marker="s", color="white", linewidths=0, zorder=3)

for r_s, lo, hi, a, w in zip(streak_r, streak_lo, streak_hi, streak_a, streak_w):
    ax.vlines(r_s, lo, hi, color="white", alpha=a, lw=w, zorder=3)

for col_r, col_x, size, alpha in REGIONS:
    pts_r = []
    pts_x = []
    for r_val, x_vals in zip(col_r, col_x):
        pts_r += [r_val] * len(x_vals)
        pts_x += x_vals
    ax.scatter(pts_r, pts_x, s=size, marker="s", color="white", alpha=alpha, linewidths=0, zorder=4)

ax.scatter(bright_r, bright_x, s=40, marker="s", color="white", linewidths=0, zorder=4)

ax.set_xlim(1, 4)
ax.set_ylim(-1, 1)
ax.set_xticks(r_ticks)
ax.set_yticks(x_ticks)
ax.set_yticklabels(x_tick_labels)
ax.tick_params(direction="in", length=21, width=3.6, color=INK, labelcolor=INK, labelsize=118, top=False, right=False)
ax.tick_params(axis="x", pad=68)
ax.tick_params(axis="y", pad=44)
for spine in ax.spines.values():
    spine.set_linewidth(3.6)
    spine.set_color(INK)
    spine.set_zorder(6)
ax.set_xlabel("r", fontsize=128, color=INK, labelpad=38)
ax.set_ylabel("x", fontsize=125, color=INK)
ax.yaxis.set_label_coords(-0.119, 0.495)

fig.savefig("out.png", dpi=100, facecolor="white")
